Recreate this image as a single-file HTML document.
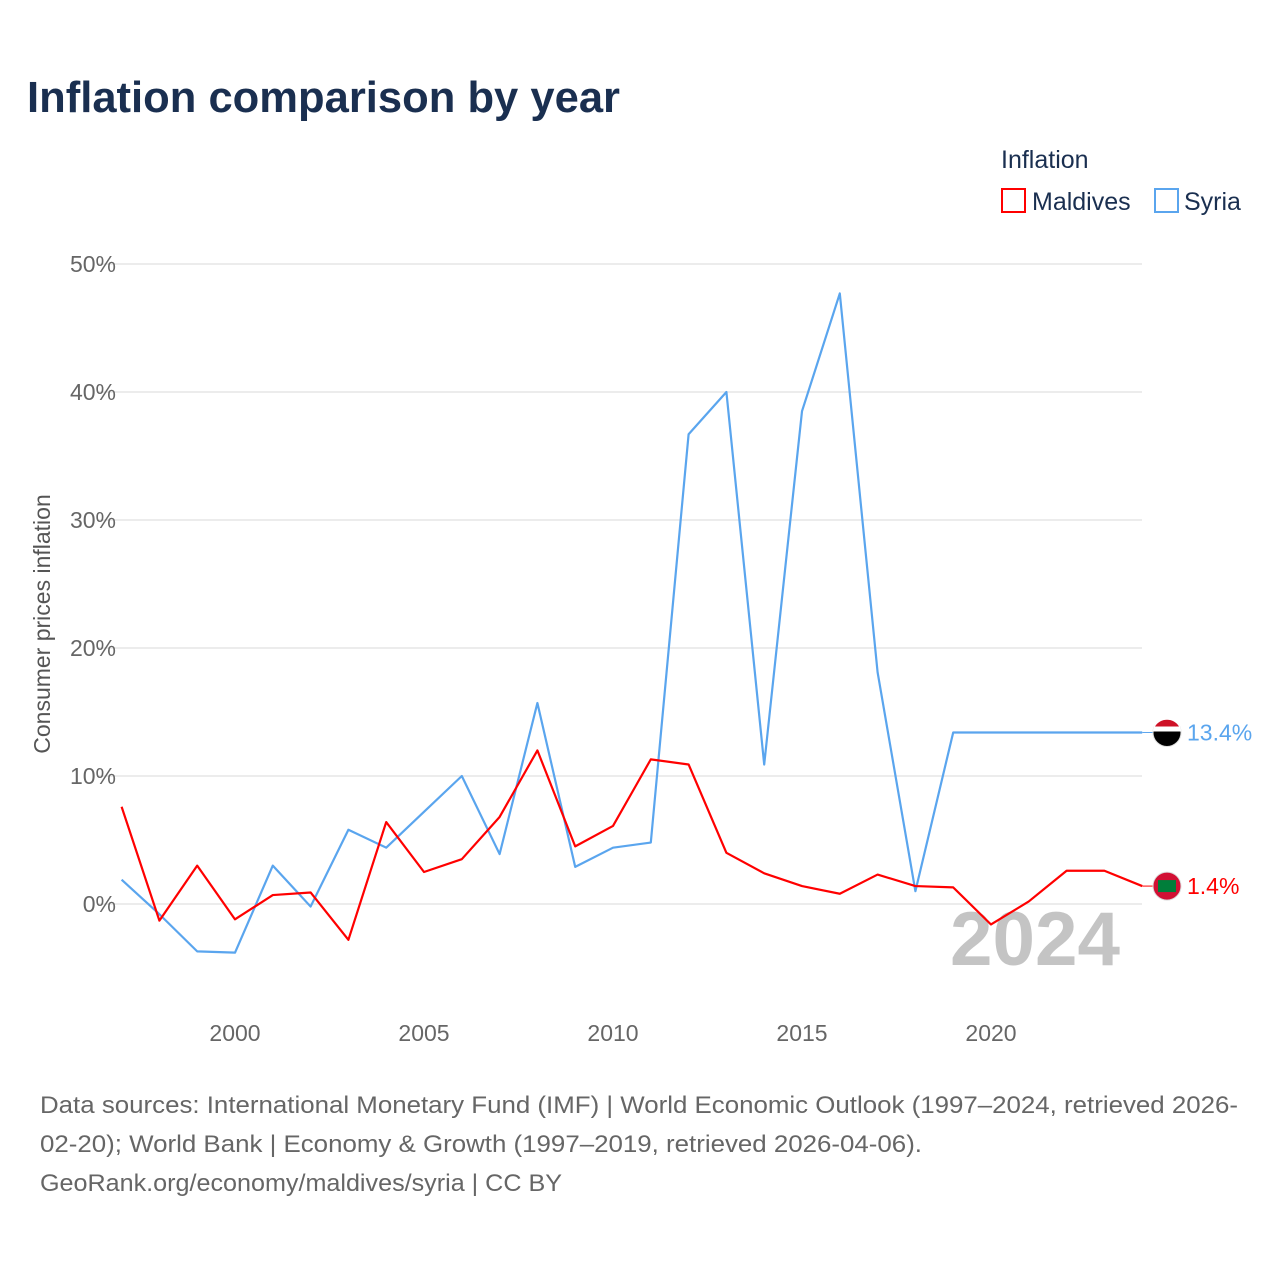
<!DOCTYPE html>
<html><head><meta charset="utf-8"><style>
body{margin:0;background:#fff;width:1280px;height:1280px;overflow:hidden;font-family:"Liberation Sans",sans-serif}
</style></head><body>
<svg width="1280" height="1280" id="chart" font-family="Liberation Sans, sans-serif">
<text x="27" y="112" font-size="44" font-weight="bold" fill="#1a2f50" textLength="593" lengthAdjust="spacingAndGlyphs">Inflation comparison by year</text>
<g>
<text x="1001" y="168" font-size="25" fill="#1a2f50">Inflation</text>
<g><rect x="1002" y="189" width="23" height="23" fill="none" stroke="#f00" stroke-width="2"/><text x="1032" y="210" font-size="25" fill="#1a2f50">Maldives</text></g>
<g><rect x="1155" y="189" width="23" height="23" fill="none" stroke="#5aa5ee" stroke-width="2"/><text x="1184" y="210" font-size="25" fill="#1a2f50">Syria</text></g>
</g>
<g id="grid"></g>
<g id="yticks"></g>
<g id="xticks"></g>
<text x="950" y="965" font-size="76" font-weight="bold" fill="#c4c4c4" textLength="170" lengthAdjust="spacingAndGlyphs">2024</text>
<text transform="translate(50,624) rotate(-90)" text-anchor="middle" font-size="23" fill="#555">Consumer prices inflation</text>
<g id="series"></g>
<g font-size="24" fill="#666">
<text x="40" y="1113" textLength="1198" lengthAdjust="spacingAndGlyphs">Data sources: International Monetary Fund (IMF) | World Economic Outlook (1997–2024, retrieved 2026-</text>
<text x="40" y="1152" textLength="882" lengthAdjust="spacingAndGlyphs">02-20); World Bank | Economy &amp; Growth (1997–2019, retrieved 2026-04-06).</text>
<text x="40" y="1191" textLength="522" lengthAdjust="spacingAndGlyphs">GeoRank.org/economy/maldives/syria | CC BY</text>
</g>
</svg>
<script>
const years=[1997,1998,1999,2000,2001,2002,2003,2004,2005,2006,2007,2008,2009,2010,2011,2012,2013,2014,2015,2016,2017,2018,2019,2020,2021,2022,2023,2024];
const maldives=[7.6,-1.3,3.0,-1.2,0.7,0.9,-2.8,6.4,2.5,3.5,6.8,12.0,4.5,6.1,11.3,10.9,4.0,2.4,1.4,0.8,2.3,1.4,1.3,-1.6,0.2,2.6,2.6,1.4];
const syria=[1.9,-0.8,-3.7,-3.8,3.0,-0.2,5.8,4.4,7.2,10.0,3.9,15.7,2.9,4.4,4.8,36.7,40.0,10.9,38.5,47.7,18.1,1.0,13.4,13.4,13.4,13.4,13.4,13.4];
const yTicks=[0,10,20,30,40,50];
const xTicks=[2000,2005,2010,2015,2020];
const NS="http://www.w3.org/2000/svg";
const x=v=>121.6+(v-1997)*37.8;
const y=v=>904-v*12.8;
function mk(t,a,p){const e=document.createElementNS(NS,t);for(const k in a)e.setAttribute(k,a[k]);p.appendChild(e);return e;}
const grid=document.getElementById('grid'),yt=document.getElementById('yticks'),xt=document.getElementById('xticks'),sr=document.getElementById('series');
yTicks.forEach(t=>{
 const l=mk('line',{x1:97,x2:1142,y1:y(t),y2:y(t),stroke:'#e6e6e6','stroke-width':1.5},grid);
 
 
 const tx=mk('text',{x:116,y:y(t)+8,'text-anchor':'end','font-size':23,fill:'#666'},yt);
 tx.textContent=t+'%';
 
 
});
xTicks.forEach(t=>{
 const tx=mk('text',{x:x(t),y:1041,'text-anchor':'middle','font-size':23,fill:'#666'},xt);
 tx.textContent=t;
 
 
});
function line(vals,col,name){
 const p=mk('polyline',{points:vals.map((v,i)=>x(years[i])+','+y(v)).join(' '),fill:'none',stroke:col,'stroke-width':2.2,'stroke-linejoin':'round'},sr);
 
 
 const last=vals[vals.length-1],lx=x(years[years.length-1]);
 mk('line',{x1:lx,x2:lx+12,y1:y(last),y2:y(last),stroke:col,'stroke-width':1},sr);
 const c=mk('circle',{cx:1167,cy:y(last),r:14,fill:name=='syria'?'#000':'#d21034',stroke:'#ddd'},sr);
 
 
 if(name=='syria'){mk('path',{d:`M1153 ${y(last)-1}A14 14 0 0 1 1181 ${y(last)-1}Z`,fill:'#fff'},sr);mk('path',{d:`M1155 ${y(last)-6}A14 14 0 0 1 1179 ${y(last)-6}Z`,fill:'#ce1126'},sr);}
 else mk('rect',{x:1158,y:y(last)-6,width:18,height:12,fill:'#007e3a'},sr);
 const t=mk('text',{x:1187,y:y(last)+8,'font-size':23,fill:col},sr);
 t.textContent=last.toFixed(1)+'%';
 
 
}
line(syria,'#5aa5ee','syria');
line(maldives,'#f00','maldives');
</script>
</body></html>
